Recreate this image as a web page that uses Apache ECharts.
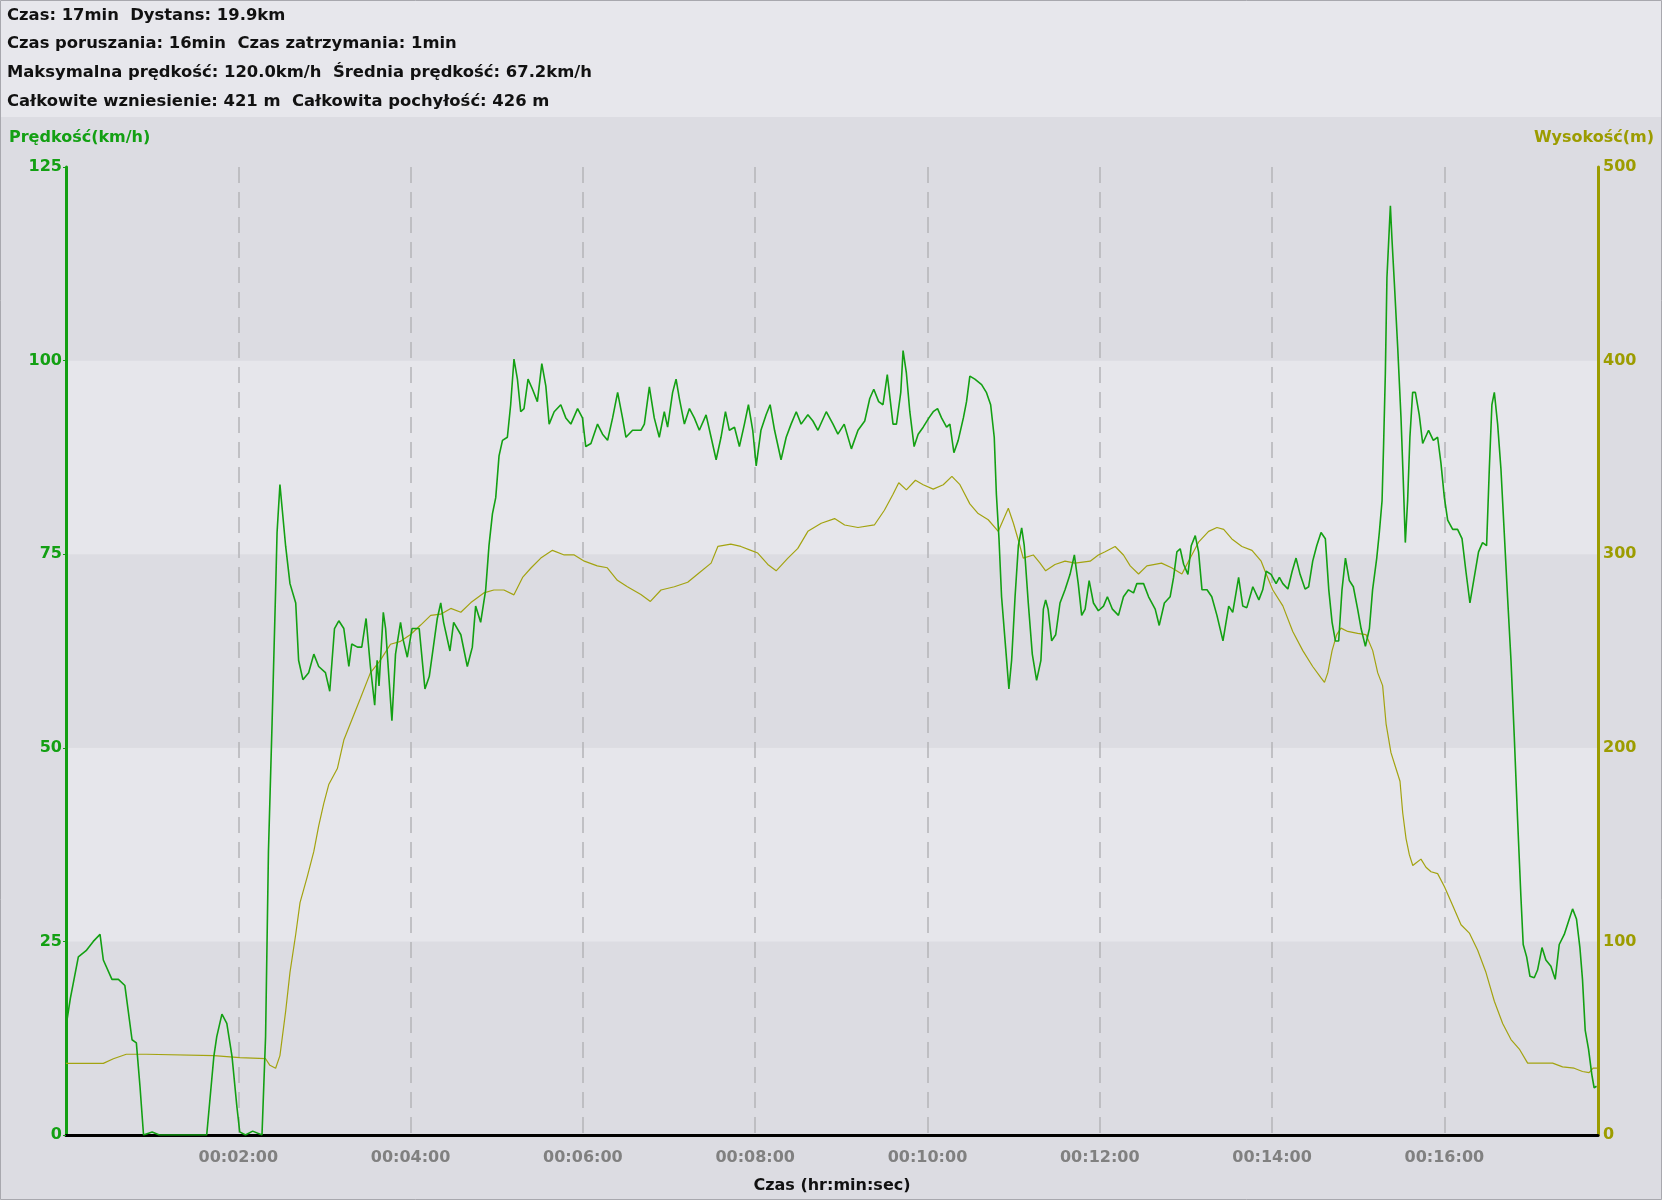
<!DOCTYPE html>
<html>
	<head>
		<meta charset="utf-8">
		<title>Prędkość i wysokość</title>
		<style type="text/css">
			html,body {
				margin: 0;
				padding: 0;
				background: #dcdce2;
			}
			#chart {
				width: 1662px;
				height: 1200px;
			}
		</style>
	</head>
	<body>
		<div id="chart"></div>
	</body>
</html>
<script src="https://cdn.jsdelivr.net/npm/echarts@6/dist/echarts.min.js" type="text/javascript" charset="utf-8"></script>
<script type="text/javascript">
	// czas w sekundach od startu
	var speedTime = [0,3,8.6,14,19,23.7,26,32,36.5,41,46,49,51.6,54,60,65,98,103,105,108.6,112,115.6,119,121,125,130,136.5,139,141,143.5,146,147,149,150.5,153,156,160,162,165,169,172.6,176,180.7,183.7,187,190,193.5,197,199,203,206,209,212,215,216.7,218,221,222.6,225,227,229.5,233,235,237.7,241,246,250,253,258.6,
		261,263,267.4,270,275,279.5,283,285.3,288.8,292.3,294.6,297,299.3,301.6,304,307.4,309.7,312,314.4,316.7,319,321.8,324.9,328.3,331.4,334.2,336.5,340,344.6,348.1,351.6,356.3,359.7,362,365.6,370.2,373.7,377.2,380.7,384.2,387.6,390,394.6,400.4,402.8,406.3,409.7,413.2,416.7,419,422.5,424.9,427.2,430.7,434.2,437.6,441.1,445.8,449.3,452.8,456.2,459.3,462,465.6,469,472.5,475.3,478.3,480.7,484,487.6,490.4,493.5,498,501.6,505,508.6,512,516.7,520.2,523.7,529.5,534.2,537.6,
		542,547,551.6,556.3,559.8,562.6,566,569,572,576,578.4,581.4,583,585.3,587.7,590.7,593.5,597,601,604,607,609.8,613.3,615.6,618.4,621.4,625,627.2,629.5,633,637.7,641,644,646.5,648,649.8,651.6,654.4,656.7,658.6,661,663.3,665.6,667.4,670.2,673,676,679,680.7,682.3,684,686.5,689.3,692.3,695.8,699.3,702.3,705,707.4,709.8,712.6,715.6,719,722.6,725.3,728.8,733,736.5,740,743.5,745.8,750.5,754,758.6,761.4,765,769,771.4,773.7,776,778.4,781.4,783.7,786.5,788.8,791.2,794.7,798,801.6,805.8,809.8,812.6,816.7,
		819.6,822.4,826.6,830.8,833.5,835.9,839.3,842.8,845.1,847.5,851,854,856.7,859.5,863,865.5,868.3,871.1,874.1,877.1,879.5,881.8,884.1,886.4,888.7,891.1,893.8,896.6,899.6,902,905,907.8,910,912.9,914.7,916.6,917.7,918.9,920,921.7,922.4,923.5,925.2,927.5,929.8,931.4,932.8,934.4,936,937.9,939.8,942.5,944.9,949,952.3,955.3,957.6,960,962.3,965.8,969.2,972.3,975,977.8,980.8,983.8,986.6,989.4,991.3,993.1,994.8,997.1,999.4,1001.7,1004,1006.4,1008.7,1011,1013.3,1014.9,1017.3,1019.6,1022.6,1024.9,1028,1030.7,1034.2,1037.2,1040,1043.5,1047,1049.3,1052,1054.4,1056.2,1058.1,1060.4,1062.7,1064.3,1066];
	var speedKmh = [14,17.6,23,23.8,25,25.9,22.6,20.1,20.1,19.3,12.3,11.9,6.1,0,0.4,0,0,10.2,12.7,15.6,14.4,10.2,3.7,0.4,0,0.5,0,12.7,36.6,53,70.4,77.8,84,81,76,71.2,68.7,61.3,58.8,59.7,62.1,60.5,59.7,57.3,65.4,66.4,65.4,60.5,63.4,63,63,66.7,60.5,55.5,61.3,58,67.5,65.4,58.8,53.5,62.1,66.2,63.8,61.7,65.4,65.4,57.6,59.2,66.7,
		68.7,66.2,62.5,66.2,64.6,60.5,63,68.3,66.2,70.4,76.1,80.2,82.3,87.7,89.7,90.1,94.3,100.2,97.6,93.4,93.8,97.6,96.3,94.7,99.6,96.7,91.8,93.4,94.3,92.6,91.8,93.8,92.6,88.9,89.3,91.8,90.5,89.7,92.6,95.9,92.6,90.1,91,91,91.8,96.6,92.6,90.1,93.4,91.4,95.9,97.6,95.1,91.8,93.8,92.6,91,93,90.1,87.2,90.1,93.4,91,91.4,88.9,91.8,94.3,91,86.4,91,93,94.3,91,87.2,90.1,91.8,93.4,91.8,93,92.2,91,93.4,91.8,90.5,
		91.8,88.6,91,92.2,95.1,96.3,94.7,94.3,98.2,91.8,91.8,95.9,101.3,98.4,93.4,88.9,90.5,91.4,92.6,93.4,93.8,92.6,91.4,91.8,88.1,89.7,92.6,94.7,98,97.6,96.9,95.9,94.3,90.1,82.7,77,69.5,63,57.6,61.3,69.5,76.1,78.4,76.1,68.7,62.1,58.7,61.3,67.9,69.1,67.9,63.8,64.6,68.7,70.4,72.4,74.9,71.2,67.1,67.9,71.6,68.7,67.7,68.3,69.5,67.9,67.1,69.5,70.4,70,71.2,71.2,69.5,67.9,65.8,68.7,69.5,72,75.3,75.7,73.7,72.4,76.1,77.4,75.3,70.4,70.4,69.5,67.1,63.8,68.3,67.5,72,
		68.3,68.1,70.8,69.1,70.4,72.8,72.4,71.2,72,71.2,70.5,72.8,74.5,72.4,70.5,70.8,74.1,76.1,77.8,77,70.4,66.2,63.8,63.8,70.4,74.5,71.6,70.8,67.9,65.4,63.1,65.4,70.4,74.5,77.8,81.9,89.3,98.4,110.7,117.3,120,115.7,109.9,101.7,92.6,84.4,76.5,81.9,90.1,95.9,95.9,93,89.3,91,89.7,90.1,86.8,82.3,79.4,78.2,78.2,77,72.8,68.7,72,75.3,76.5,76.1,86,94.3,95.9,91.8,86,77.8,69.5,61.3,51.4,40.7,30.8,24.6,23,20.5,20.3,21.3,24.2,22.6,21.8,20.1,24.6,25.9,27.9,29.2,27.9,24.2,20.1,13.5,11.1,7.8,6.1,6.3];

	var altTime = [0,10,26,33,42,56,103,121,139,142,146,149,153,156,160,163,168,172.6,176,179.5,183,189,193.5,198,205,212,219,226,233,240,247,254,261,268,275,282,291,298,305,312,318,324,330.7,338.8,347,354,361,370,377,384,391,400.4,407,414.4,423.7,433,440,449.3,454,463,470,477,481.8,488.8,494.6,502.8,509.7,516.7,526,535.3,542.3,551.6,563,570,576,580,585.3,591.6,597,604,611,617,622.6,629.5,635.3,642.3,649.3,652.8,656.3,659.8,663.3,666.7,673.7,678.4,682.3,688.8,695.8,702.8,713.3,719,723.7,730.7,736.5,741.2,747,752.8,763,770,777.2,783,788.8,795.8,801.6,806.3,812,819,826,832.4,835.9,840.5,847.5,854.4,861.4,868.3,874.1,876.5,878.8,881.8,885,888,892.7,899.6,905.4,910.1,913.6,917,919.4,922.8,926.3,929.1,931,933.3,935.6,938,940.2,943.7,947.2,950.7,955.3,960,965.8,971.6,977.4,983.2,989,994.8,1000.6,1006.4,1012.2,1018,1026,1035.4,1042.3,1050.4,1056.2,1060.8,1063.6,1066.6];
	var altM = [37,37,37,39.4,41.7,41.7,41,40,39.4,36,34.5,41,64,84,103.7,120,133.3,146.5,159.7,171.2,181,189.3,204,212.4,225.5,238.7,245.3,253.5,255,258.5,263.4,268.4,269,272,270,275,280,281.5,281.5,279,288,293,298,302,299.6,299.6,296.4,294,293,286.5,283.2,279.2,275.6,281.5,283.2,285.5,289.8,295.4,304,305.2,304,302,300.6,294.7,291.4,298,303,311.8,316,318.4,315.1,313.8,315.1,322.7,331,336.9,333.2,338.2,335.9,333.6,335.9,340.2,335.9,326,321,317.8,311.8,317.8,323.7,316.1,307.2,298,299.6,295.4,291.4,294.7,296.4,295.4,296.4,299.6,301.3,304,299.6,294,289.8,294,295.4,293,289.8,298,306.2,311.8,313.8,312.8,307.9,304,302,296.4,289.8,281.5,273.3,260.1,250.2,242,236.1,233.8,238.7,250.2,258.5,261.8,260.1,259.1,258.5,250.2,238.7,232.1,212.4,197.5,189.3,182.7,166.3,153.1,144.8,139.2,140.5,142.5,138.3,136,135,128.4,118.5,108.6,104.3,95.4,83.9,69.1,57.6,49.3,44.4,37.1,37.1,37.1,35.2,34.5,32.8,32.2,34.5,34.5];

	var statLines = [
		'Czas: 17min  Dystans: 19.9km',
		'Czas poruszania: 16min  Czas zatrzymania: 1min',
		'Maksymalna prędkość: 120.0km/h  Średnia prędkość: 67.2km/h',
		'Całkowite wzniesienie: 421 m  Całkowita pochyłość: 426 m'
	];
	var speedTicks = [0, 25, 50, 75, 100, 125];
	var altTicks = [0, 100, 200, 300, 400, 500];
	var endTime = 1067;

	var green = '#13a013';
	var olive = '#9c9c00';
	var font = 'DejaVu Sans';

	function zip(a, b) {
		var out = [];
		for (var i = 0; i < a.length; i++) {
			out.push([a[i], b[i]]);
		}
		return out;
	}
	function hms(v) {
		if (v <= 0 || v % 120 !== 0) return '';
		var h = Math.floor(v / 3600), m = Math.floor(v % 3600 / 60), s = v % 60;
		var p = function(n){ return (n < 10 ? '0' : '') + n; };
		return p(h) + ':' + p(m) + ':' + p(s);
	}

	var myChart = echarts.init(document.getElementById('chart'));
	var option = {
		backgroundColor: '#dcdce2',
		animation: false,
		title: {
			text: statLines.join('\n'),
			left: 2,
			top: -4,
			textStyle: {
				fontFamily: font,
				fontSize: 16.4,
				fontWeight: 'bold',
				color: '#111111',
				lineHeight: 28.7
			}
		},
		graphic: [
			{
				type: 'rect', z: -10, silent: true,
				shape: { x: 0, y: 0, width: 1662, height: 117 },
				style: { fill: '#e7e7ec' }
			},
			{
				type: 'rect', z: 100, silent: true,
				shape: { x: 0.5, y: 0.5, width: 1661, height: 1199 },
				style: { fill: null, stroke: '#a8a8ae', lineWidth: 1 }
			},
			{
				type: 'text', left: 9, top: 130,
				style: { text: 'Prędkość(km/h)', fill: green, font: 'bold 16px ' + font }
			},
			{
				type: 'text', right: 8, top: 130,
				style: { text: 'Wysokość(m)', fill: olive, font: 'bold 16px ' + font }
			}
		],
		grid: {
			left: 66,
			right: 64,
			top: 167,
			bottom: 65
		},
		xAxis: {
			type: 'value',
			min: 0,
			max: endTime,
			interval: 120,
			name: 'Czas (hr:min:sec)',
			nameLocation: 'middle',
			nameGap: 43,
			nameTextStyle: { fontFamily: font, fontSize: 16, fontWeight: 'bold', color: '#111111' },
			axisLine: { lineStyle: { color: '#000000', width: 3 } },
			axisTick: { show: false },
			axisLabel: {
				formatter: hms,
				margin: 15,
				showMinLabel: false,
				showMaxLabel: false,
				fontFamily: font,
				fontSize: 16,
				fontWeight: 'bold',
				color: '#808080'
			},
			splitLine: {
				show: true,
				lineStyle: { color: '#b4b4b8', width: 1.5, type: [16, 9] }
			}
		},
		yAxis: [
			{
				type: 'value',
				position: 'left',
				min: speedTicks[0],
				max: speedTicks[speedTicks.length - 1],
				interval: 25,
				axisLine: { show: true, onZero: false, lineStyle: { color: green, width: 3 } },
				axisTick: { show: true, length: 3, lineStyle: { color: green } },
				axisLabel: { margin: 4, fontFamily: font, fontSize: 16, fontWeight: 'bold', color: green },
				splitLine: { show: false },
				splitArea: { show: true, areaStyle: { color: ['#dcdce2', '#e6e6eb'] } }
			},
			{
				type: 'value',
				position: 'right',
				min: altTicks[0],
				max: altTicks[altTicks.length - 1],
				interval: 100,
				axisLine: { show: true, onZero: false, lineStyle: { color: olive, width: 3 } },
				axisTick: { show: false },
				axisLabel: { margin: 5, fontFamily: font, fontSize: 16, fontWeight: 'bold', color: olive },
				splitLine: { show: false }
			}
		],
		series: [
			{
				name: 'Wysokość',
				type: 'line',
				yAxisIndex: 1,
				showSymbol: false,
				data: zip(altTime, altM),
				lineStyle: { color: '#a3a310', width: 1.2 },
				z: 2
			},
			{
				name: 'Prędkość',
				type: 'line',
				yAxisIndex: 0,
				showSymbol: false,
				data: zip(speedTime, speedKmh),
				lineStyle: { color: green, width: 1.6 },
				z: 3
			}
		]
	};
	myChart.setOption(option, true);
</script>
